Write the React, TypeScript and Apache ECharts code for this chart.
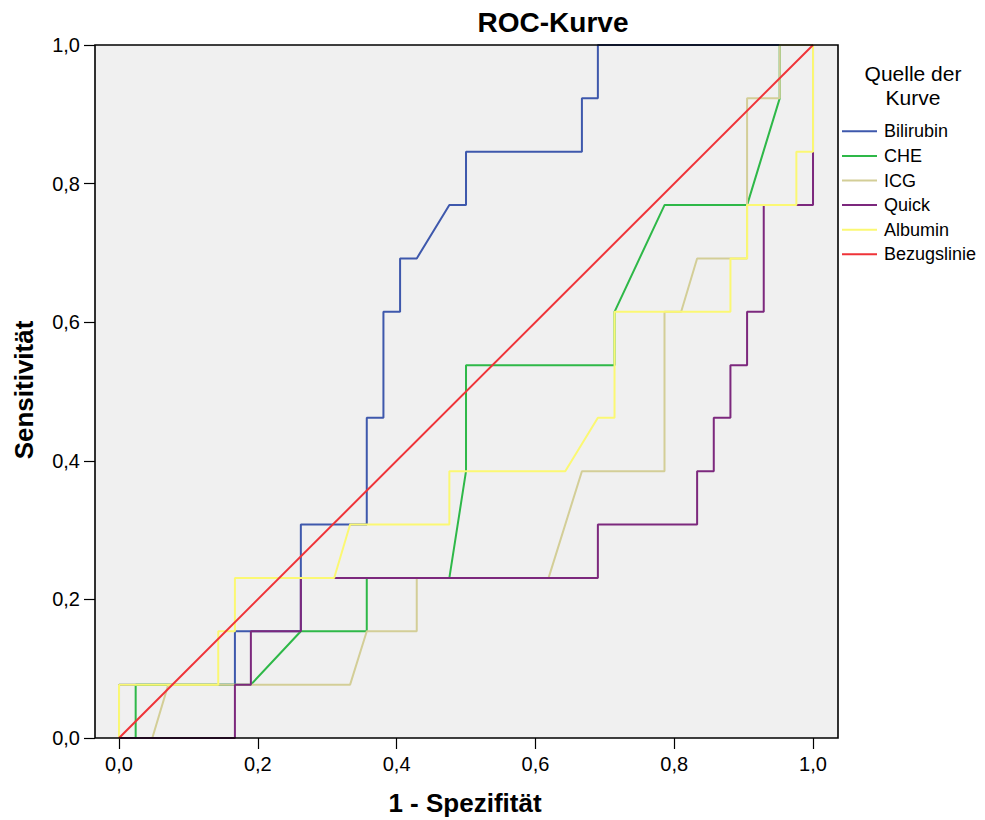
import React, { useEffect, useRef } from "react";
import * as echarts from "echarts";

const FONT = '"Liberation Sans", Arial, Helvetica, sans-serif';

const seriesNames = ["Bilirubin", "CHE", "ICG", "Quick", "Albumin", "Bezugslinie"];
const seriesColors = ["#3E58AC", "#2EB848", "#D3CE97", "#7C287D", "#FBF873", "#EF3338"];

const xTickValues = [0, 0.2, 0.4, 0.6, 0.8, 1.0];

// 1 - Spezifität (false positive rate) and Sensitivität (true positive rate)
const bilirubinFpr = [0, 0, 0.167, 0.167, 0.262, 0.262, 0.357, 0.357, 0.381, 0.381, 0.405, 0.405, 0.429, 0.476, 0.5, 0.5, 0.667, 0.667, 0.69, 0.69, 1];
const bilirubinTpr = [0, 0.077, 0.077, 0.154, 0.154, 0.308, 0.308, 0.462, 0.462, 0.615, 0.615, 0.692, 0.692, 0.769, 0.769, 0.846, 0.846, 0.923, 0.923, 1, 1];

const cheFpr = [0, 0.024, 0.024, 0.19, 0.262, 0.357, 0.357, 0.476, 0.5, 0.5, 0.714, 0.714, 0.786, 0.905, 0.952, 0.952, 1];
const cheTpr = [0, 0, 0.077, 0.077, 0.154, 0.154, 0.231, 0.231, 0.385, 0.538, 0.538, 0.615, 0.769, 0.769, 0.923, 1, 1];

const icgFpr = [0, 0.048, 0.071, 0.333, 0.357, 0.429, 0.429, 0.619, 0.667, 0.786, 0.786, 0.81, 0.833, 0.905, 0.905, 0.952, 0.952, 1];
const icgTpr = [0, 0, 0.077, 0.077, 0.154, 0.154, 0.231, 0.231, 0.385, 0.385, 0.615, 0.615, 0.692, 0.692, 0.923, 0.923, 1, 1];

const quickFpr = [0, 0.167, 0.167, 0.19, 0.19, 0.262, 0.262, 0.69, 0.69, 0.833, 0.833, 0.857, 0.857, 0.881, 0.881, 0.905, 0.905, 0.929, 0.929, 1, 1];
const quickTpr = [0, 0, 0.077, 0.077, 0.154, 0.154, 0.231, 0.231, 0.308, 0.308, 0.385, 0.385, 0.462, 0.462, 0.538, 0.538, 0.615, 0.615, 0.769, 0.769, 1];

const albuminFpr = [0, 0, 0.143, 0.143, 0.167, 0.167, 0.31, 0.333, 0.476, 0.476, 0.643, 0.69, 0.714, 0.714, 0.881, 0.881, 0.905, 0.905, 0.976, 0.976, 1, 1];
const albuminTpr = [0, 0.077, 0.077, 0.154, 0.154, 0.231, 0.231, 0.308, 0.308, 0.385, 0.385, 0.462, 0.462, 0.615, 0.615, 0.692, 0.692, 0.769, 0.769, 0.846, 0.846, 1];

const referenceFpr = [0, 1];
const referenceTpr = [0, 1];

const zip = (xs: number[], ys: number[]) => xs.map((x, i) => [x, ys[i]]);

export default function App() {
  const ref = useRef<HTMLDivElement>(null);

  useEffect(() => {
    document.body.style.margin = "0";
    const chart = echarts.init(ref.current!, null, { renderer: "svg" });

    const curves = [
      zip(bilirubinFpr, bilirubinTpr),
      zip(cheFpr, cheTpr),
      zip(icgFpr, icgTpr),
      zip(quickFpr, quickTpr),
      zip(albuminFpr, albuminTpr),
      zip(referenceFpr, referenceTpr),
    ];

    const fmt = (v: number) => v.toFixed(1).replace(".", ",");

    chart.setOption({
      animation: false,
      backgroundColor: "#FFFFFF",
      textStyle: { fontFamily: FONT },
      grid: { left: 95, right: 147, top: 45, bottom: 82, containLabel: false },
      xAxis: {
        type: "value",
        min: -0.0346,
        max: 1.036,
        axisLine: { show: false, onZero: false },
        axisTick: { show: true, length: 11, customValues: xTickValues, lineStyle: { color: "#000", width: 1.2 } },
        axisLabel: { formatter: fmt, fontSize: 20, color: "#000", fontFamily: FONT, margin: 16, customValues: xTickValues },
        splitLine: { show: false },
      },
      yAxis: {
        type: "value",
        min: 0,
        max: 1,
        interval: 0.2,
        axisLine: { show: false, onZero: false },
        axisTick: { show: true, length: 11, lineStyle: { color: "#000", width: 1.2 } },
        axisLabel: { formatter: fmt, fontSize: 20, color: "#000", fontFamily: FONT, margin: 15 },
        splitLine: { show: false },
      },
      legend: {
        orient: "vertical",
        left: 842,
        top: 119,
        padding: 0,
        itemWidth: 35,
        itemHeight: 2,
        itemGap: 0,
        icon: "rect",
        selectedMode: false,
        data: seriesNames,
        textStyle: { fontSize: 18, color: "#000", fontFamily: FONT, lineHeight: 24.6, padding: [0, 0, 0, 2] },
      },
      graphic: [
        {
          type: "rect",
          z: -10,
          silent: true,
          shape: { x: 95, y: 45, width: 743, height: 693 },
          style: { fill: "#F0F0F0", stroke: "none" },
        },
        {
          type: "rect",
          z: 100,
          silent: true,
          shape: { x: 95, y: 45, width: 743, height: 693 },
          style: { fill: "none", stroke: "#000", lineWidth: 1.6 },
        },
        {
          type: "text",
          x: 553,
          y: 22,
          style: { text: "ROC-Kurve", textAlign: "center", textVerticalAlign: "middle", fontSize: 28, fontWeight: "bold", fontFamily: FONT, fill: "#000" },
        },
        {
          type: "text",
          x: 465,
          y: 803,
          style: { text: "1 - Spezifität", textAlign: "center", textVerticalAlign: "middle", fontSize: 26, fontWeight: "bold", fontFamily: FONT, fill: "#000" },
        },
        {
          type: "text",
          x: 24,
          y: 390,
          rotation: Math.PI / 2,
          style: { text: "Sensitivität", textAlign: "center", textVerticalAlign: "middle", fontSize: 26, fontWeight: "bold", fontFamily: FONT, fill: "#000" },
        },
        {
          type: "text",
          x: 913,
          y: 73,
          style: { text: "Quelle der", textAlign: "center", textVerticalAlign: "middle", fontSize: 21, fontFamily: FONT, fill: "#000" },
        },
        {
          type: "text",
          x: 913,
          y: 97,
          style: { text: "Kurve", textAlign: "center", textVerticalAlign: "middle", fontSize: 21, fontFamily: FONT, fill: "#000" },
        },
      ],
      series: curves.map((data, i) => ({
        name: seriesNames[i],
        type: "line",
        data,
        color: seriesColors[i],
        showSymbol: false,
        symbol: "none",
        clip: false,
        z: 2 + i,
        lineStyle: { color: seriesColors[i], width: 2 },
        itemStyle: { color: seriesColors[i] },
        emphasis: { disabled: true },
      })),
    });

    return () => chart.dispose();
  }, []);

  return <div ref={ref} style={{ width: 985, height: 820 }} />;
}
